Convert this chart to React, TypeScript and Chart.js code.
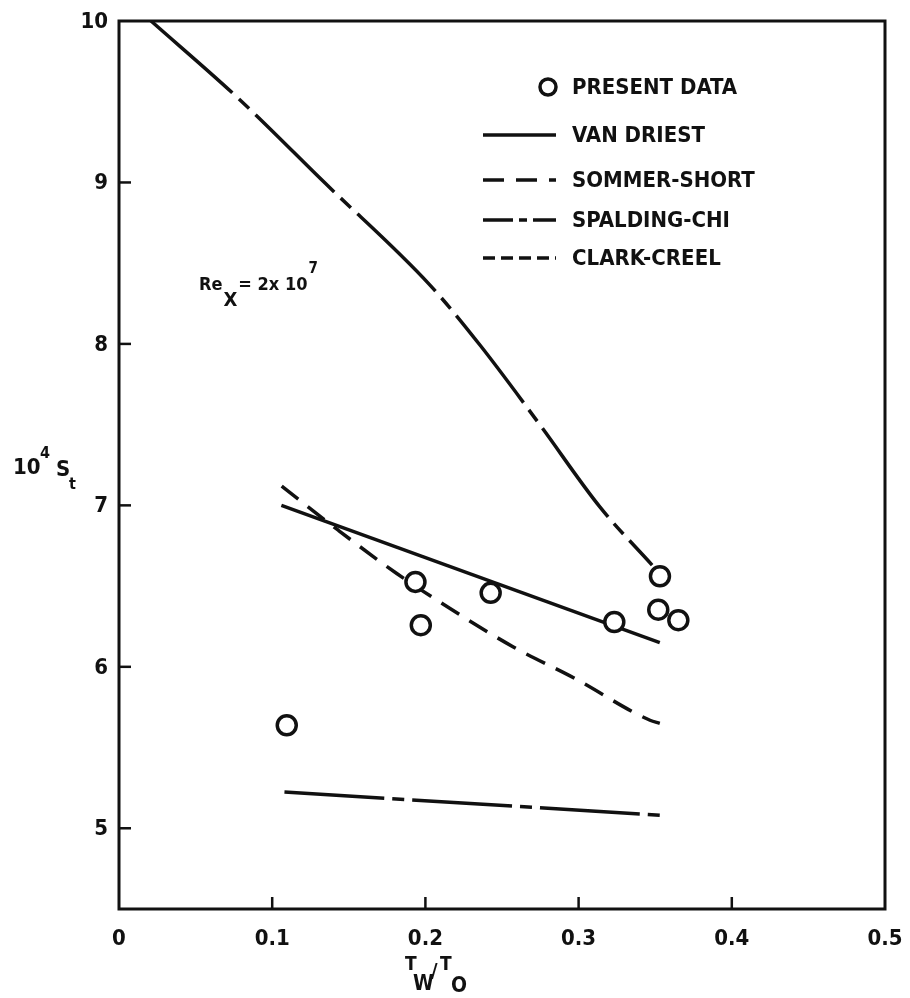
import { useEffect, useRef } from "react";
import { Chart, registerables } from "chart.js";

Chart.register(...registerables);

// ---- data ----
const presentX = [0.1095, 0.1935, 0.197, 0.2426, 0.3233, 0.3531, 0.352, 0.3651];
const presentY = [5.638, 6.526, 6.258, 6.458, 6.278, 6.561, 6.354, 6.289];

const vanDriestX = [0.106, 0.353];
const vanDriestY = [7.0, 6.15];

const sommerX = [0.1062, 0.1431, 0.1813, 0.2161, 0.2574, 0.2977, 0.3466, 0.353];
const sommerY = [7.119, 6.846, 6.578, 6.361, 6.123, 5.927, 5.669, 5.65];

const spaldingX = [0.108, 0.354];
const spaldingY = [5.225, 5.08];

const clarkX = [0.0202, 0.079, 0.1345, 0.203, 0.2356, 0.2748, 0.314, 0.348];
const clarkY = [10.006, 9.511, 8.996, 8.364, 7.993, 7.498, 6.989, 6.63];

const xTicks = [0, 0.1, 0.2, 0.3, 0.4, 0.5];
const xTickLabels = ["0", "0.1", "0.2", "0.3", "0.4", "0.5"];
const yTicks = [5, 6, 7, 8, 9, 10];
const yTickLabels = ["5", "6", "7", "8", "9", "10"];

const legendLabels = ["PRESENT DATA", "VAN DRIEST", "SOMMER-SHORT", "SPALDING-CHI", "CLARK-CREEL"];

const INK = "#111";
const FONT = '"DejaVu Sans Condensed", "Liberation Sans Narrow", "DejaVu Sans", sans-serif';

const pts = (xs: number[], ys: number[]) => xs.map((x, i) => ({ x, y: ys[i] }));

const dashes = {
  van: [] as number[],
  sommer: [21, 12],
  spalding: [100, 8, 12, 8],
  clark: [110, 9, 14, 9],
};

const overlay = {
  id: "overlay",
  afterDraw(chart: any) {
    const ctx = chart.ctx as CanvasRenderingContext2D;
    const { left, right, top, bottom } = chart.chartArea;
    const xs = chart.scales.x;
    const ys = chart.scales.y;
    ctx.save();
    ctx.strokeStyle = INK;
    ctx.fillStyle = INK;
    // frame
    ctx.lineWidth = 3;
    ctx.beginPath();
    ctx.moveTo(left, top);
    ctx.lineTo(right, top);
    ctx.lineTo(right, bottom);
    ctx.lineTo(left, bottom);
    ctx.closePath();
    ctx.stroke();
    // inward ticks
    ctx.lineWidth = 2.5;
    xTicks.slice(1, -1).forEach((v) => {
      const px = xs.getPixelForValue(v);
      ctx.beginPath();
      ctx.moveTo(px, bottom);
      ctx.lineTo(px, bottom - 12);
      ctx.stroke();
    });
    yTicks.slice(0, -1).forEach((v) => {
      const py = ys.getPixelForValue(v);
      ctx.beginPath();
      ctx.moveTo(left, py);
      ctx.lineTo(left + 12, py);
      ctx.stroke();
    });

    // tick labels
    ctx.font = `bold 22px ${FONT}`;
    ctx.textAlign = "center";
    ctx.textBaseline = "middle";
    xTicks.forEach((v, i) => {
      ctx.fillText(xTickLabels[i], xs.getPixelForValue(v), bottom + 30);
    });
    ctx.textAlign = "right";
    yTicks.forEach((v, i) => {
      ctx.fillText(yTickLabels[i], left - 11, ys.getPixelForValue(v) + 1);
    });

    // legend
    ctx.textBaseline = "middle";
    ctx.textAlign = "left";
    ctx.font = `bold 22px ${FONT}`;
    const legY = [87, 135, 180, 220, 258];
    const sx0 = 483, sx1 = 556, tx = 572;
    ctx.lineWidth = 3.5;
    ctx.beginPath();
    ctx.arc(548, legY[0], 8, 0, Math.PI * 2);
    ctx.stroke();
    ctx.fillText(legendLabels[0], tx, legY[0] + 1);
    const dl = [dashes.van, dashes.sommer, [30, 6, 8, 6], [12, 6]];
    for (let i = 1; i < 5; i++) {
      ctx.lineWidth = 3.5;
      ctx.setLineDash(dl[i - 1]);
      ctx.beginPath();
      ctx.moveTo(sx0, legY[i]);
      ctx.lineTo(sx1, legY[i]);
      ctx.stroke();
      ctx.setLineDash([]);
      ctx.fillText(legendLabels[i], tx, legY[i] + 1);
    }

    // Re_x annotation
    ctx.textBaseline = "alphabetic";
    ctx.font = `bold 18px ${FONT}`;
    let x = 199;
    ctx.fillText("Re", x, 290);
    x += ctx.measureText("Re").width + 1;
    ctx.font = `bold 20px ${FONT}`;
    ctx.fillText("X", x, 306);
    x += ctx.measureText("X").width + 1;
    ctx.font = `bold 18px ${FONT}`;
    const mid = "= 2x 10";
    ctx.fillText(mid, x, 290);
    x += ctx.measureText(mid).width + 1;
    ctx.font = `bold 15px ${FONT}`;
    ctx.fillText("7", x, 273);

    // y axis title 10^4 S_t
    ctx.font = `bold 22px ${FONT}`;
    ctx.fillText("10", 13, 474);
    ctx.font = `bold 16px ${FONT}`;
    ctx.fillText("4", 40, 458);
    ctx.font = `bold 22px ${FONT}`;
    ctx.fillText("S", 56, 476);
    ctx.font = `bold 16px ${FONT}`;
    ctx.fillText("t", 69, 489);

    // x axis title T_W / T_O
    ctx.font = `bold 19px ${FONT}`;
    ctx.fillText("T", 405, 970);
    ctx.font = `bold 21px ${FONT}`;
    ctx.fillText("W", 413, 990);
    ctx.font = `bold 20px ${FONT}`;
    ctx.fillText("/", 431, 977);
    ctx.font = `bold 19px ${FONT}`;
    ctx.fillText("T", 440, 970);
    ctx.font = `bold 21px ${FONT}`;
    ctx.fillText("O", 451, 992);
    ctx.restore();
  },
};

export default function App() {
  const ref = useRef<HTMLCanvasElement | null>(null);
  useEffect(() => {
    if (!ref.current) return;
    const lineDs = (xs: number[], ys: number[], dash: number[], curve: boolean) => ({
      data: pts(xs, ys),
      showLine: true,
      borderColor: INK,
      borderWidth: 3.5,
      borderDash: dash,
      pointRadius: 0,
      pointHoverRadius: 0,
      fill: false,
      cubicInterpolationMode: curve ? "monotone" : "default",
      tension: 0,
    });
    const chart = new Chart(ref.current, {
      type: "scatter",
      data: {
        datasets: [
          {
            data: pts(presentX, presentY),
            pointStyle: "circle",
            pointRadius: 9.5,
            pointBorderWidth: 3.5,
            borderColor: INK,
            backgroundColor: "#fff",
            showLine: false,
          } as any,
          lineDs(vanDriestX, vanDriestY, dashes.van, false) as any,
          lineDs(sommerX, sommerY, dashes.sommer, true) as any,
          lineDs(spaldingX, spaldingY, dashes.spalding, false) as any,
          lineDs(clarkX, clarkY, dashes.clark, true) as any,
        ],
      },
      options: {
        animation: false,
        responsive: false,
        events: [],
        layout: { padding: { top: 21, right: 25, left: 0, bottom: 0 } },
        plugins: { legend: { display: false }, tooltip: { enabled: false } },
        scales: {
          x: {
            type: "linear",
            min: 0,
            max: 0.5,
            grid: { display: false, drawTicks: false },
            border: { display: false },
            ticks: { display: false },
            afterBuildTicks: (s: any) => {
              s.ticks = xTicks.map((v) => ({ value: v }));
            },
            afterFit: (s: any) => {
              s.height = 89;
            },
          },
          y: {
            type: "linear",
            min: 4.5,
            max: 10,
            grid: { display: false, drawTicks: false },
            border: { display: false },
            ticks: { display: false },
            afterBuildTicks: (s: any) => {
              s.ticks = yTicks.map((v) => ({ value: v }));
            },
            afterFit: (s: any) => {
              s.width = 119;
            },
          },
        },
      } as any,
      plugins: [overlay],
    });
    return () => chart.destroy();
  }, []);
  return (
    <div style={{ position: "absolute", left: 0, top: 0, width: 910, height: 998, background: "#fff" }}>
      <canvas ref={ref} width={910} height={998} style={{ display: "block", width: 910, height: 998 }} />
    </div>
  );
}
